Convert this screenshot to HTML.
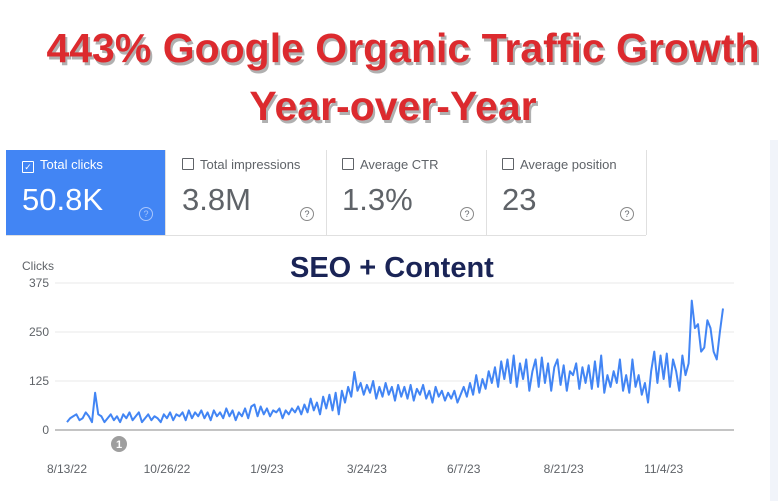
<!DOCTYPE html>
<html><head><meta charset="utf-8"><style>
body{margin:0;width:778px;height:501px;overflow:hidden;background:#fff;font-family:"Liberation Sans",sans-serif;position:relative}
.t{position:absolute;left:14px;width:778px;text-align:center;color:#dc2a2e;font-weight:bold;font-size:41px;text-shadow:2px 3px 0 #b0b0b0;letter-spacing:0px}
.panel{position:absolute;left:770px;top:140px;width:8px;height:361px;background:#f1f4fa}
.card{position:absolute;top:150px;height:85px;width:160px;border-right:1px solid #e0e0e0;color:#5f6368}
.card .lab{position:absolute;left:16px;top:7px;font-size:13px}
.card .box{display:inline-block;width:10px;height:10px;border:1px solid #5f6368;border-radius:1px;vertical-align:-1px;margin-right:6px}
.card .val{position:absolute;left:16px;top:32px;font-size:31px}
.card .q{position:absolute;right:12px;top:57px;width:12px;height:12px;border:1px solid #888;border-radius:50%;font-size:9px;text-align:center;line-height:12px}
.sel{background:#4285f4;color:#fff}
.sel .box{border-color:#fff}
.sel .q{border-color:#a9c6fb;color:#a9c6fb}
</style></head><body>
<div class="t" style="top:25px">443% Google Organic Traffic Growth</div>
<div class="t" style="top:83px;left:4px">Year-over-Year</div>
<div class="panel"></div>
<div class="card sel" style="left:6px;width:159px"><div class="lab"><span class="box" style="text-align:center;font-size:9px;line-height:10px">✓</span>Total clicks</div><div class="val">50.8K</div><div class="q">?</div></div>
<div class="card" style="left:166px"><div class="lab"><span class="box"></span>Total impressions</div><div class="val">3.8M</div><div class="q">?</div></div>
<div class="card" style="left:326px"><div class="lab"><span class="box"></span>Average CTR</div><div class="val">1.3%</div><div class="q">?</div></div>
<div class="card" style="left:486px"><div class="lab"><span class="box"></span>Average position</div><div class="val">23</div><div class="q">?</div></div>
<div style="position:absolute;left:6px;top:235px;width:640px;border-top:1px solid #e0e0e0"></div>
<div style="position:absolute;left:290px;top:252px;font-size:29px;font-weight:bold;color:#1a2456">SEO + Content</div>
<svg id="ch" width="778" height="501" style="position:absolute;left:0;top:0"></svg>
<script>
const yTicks=[0,125,250,375];
const xLabels=["8/13/22","10/26/22","1/9/23","3/24/23","6/7/23","8/21/23","11/4/23"];
const xLabelIdx=[0,32,64,96,127,159,191];
const clicks=[20,30,35,40,25,30,45,35,20,95,40,35,20,30,40,25,
35,20,40,30,45,25,35,45,20,30,40,25,35,30,20,
40,30,45,25,40,35,45,25,50,30,45,35,50,30,45,
25,50,35,45,30,55,35,50,25,45,35,55,30,60,65,
35,60,40,55,35,50,45,55,30,50,40,55,45,60,40,
65,45,80,50,70,40,85,55,90,50,95,40,100,70,110,
85,148,100,120,90,115,95,125,80,110,85,120,90,110,75,
115,85,110,80,115,75,105,90,115,80,100,70,110,85,100,
75,95,80,100,70,90,110,85,120,90,140,95,130,105,150,
120,160,110,175,130,180,120,190,110,170,130,180,100,150,180,
110,185,120,170,100,160,180,115,165,100,150,140,170,105,160,
120,165,105,175,110,190,95,140,110,150,120,180,100,140,95,
180,110,140,90,120,70,150,200,120,190,130,195,110,180,150,
100,190,140,170,330,260,270,200,210,280,260,200,180,250,310];
const svg=document.getElementById('ch');const NS='http://www.w3.org/2000/svg';
const x0=67,x1=723,yb=430,yt=283;
const X=i=>x0+(x1-x0)*i/(clicks.length-1);
const Y=v=>yb-(yb-yt)*v/375;
function mk(t,a){const e=document.createElementNS(NS,t);for(const k in a)e.setAttribute(k,a[k]);svg.appendChild(e);return e;}
const cl=mk('text',{x:22,y:270,'font-size':12,fill:'#5f6368'});cl.textContent='Clicks';


yTicks.forEach(v=>{
 const l=mk('line',{x1:55,x2:734,y1:Y(v),y2:Y(v),stroke:v?'#e8e8e8':'#888','stroke-width':1});
 
 
 const t=mk('text',{x:49,y:Y(v)+4,'text-anchor':'end','font-size':12,fill:'#5f6368'});t.textContent=v;
 
 
});
xLabels.forEach((s,k)=>{
 const t=mk('text',{x:X(xLabelIdx[k]),y:473,'text-anchor':'middle','font-size':12,fill:'#5f6368'});t.textContent=s;
 
 
});
const p=mk('polyline',{points:clicks.map((v,i)=>X(i)+','+Y(v)).join(' '),fill:'none',stroke:'#4285f4','stroke-width':2,'stroke-linejoin':'round'});


const c=mk('circle',{cx:119,cy:444,r:8,fill:'#9e9e9e'});


const ct=mk('text',{x:119,y:448,'text-anchor':'middle','font-size':11,'font-weight':'bold',fill:'#fff'});ct.textContent='1';


</script>
</body></html>
